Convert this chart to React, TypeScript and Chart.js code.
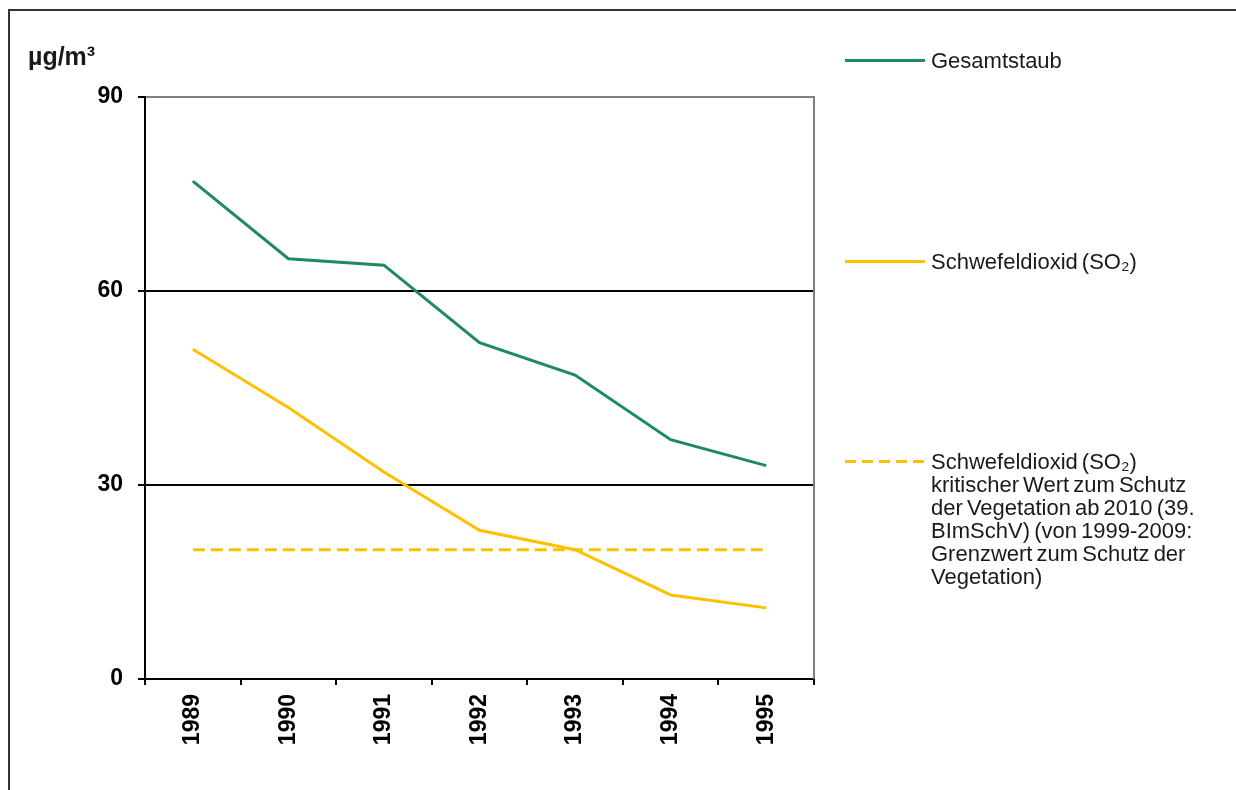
import React, { useEffect, useRef } from "react";
import { Chart, registerables } from "chart.js";

Chart.register(...registerables);

const years = ["1989", "1990", "1991", "1992", "1993", "1994", "1995"];
const gesamtstaub = [77, 65, 64, 52, 47, 37, 33];
const schwefeldioxid = [51, 42, 32, 23, 20, 13, 11];
const grenzwert = [20, 20, 20, 20, 20, 20, 20];
const yTicks = [0, 30, 60, 90];

const GREEN = "#1F8A5A";
const YELLOW = "#FFC000";
const FONT = "'Liberation Sans', Arial, sans-serif";

const rightBorder = {
  id: "rightBorder",
  beforeDatasetsDraw(chart: any) {
    const { ctx, chartArea } = chart;
    ctx.save();
    ctx.strokeStyle = "#808080";
    ctx.lineWidth = 2;
    ctx.beginPath();
    ctx.moveTo(chartArea.right, chartArea.top - 1);
    ctx.lineTo(chartArea.right, chartArea.bottom);
    ctx.stroke();
    ctx.restore();
  },
};

export default function App() {
  const ref = useRef<HTMLCanvasElement>(null);

  useEffect(() => {
    if (!ref.current) return;
    const chart = new Chart(ref.current, {
      type: "line",
      data: {
        labels: years,
        datasets: [
          {
            label: "Gesamtstaub",
            data: gesamtstaub,
            borderColor: GREEN,
            backgroundColor: GREEN,
            borderWidth: 3,
            pointRadius: 0,
            tension: 0,
          },
          {
            label: "Schwefeldioxid (SO₂)",
            data: schwefeldioxid,
            borderColor: YELLOW,
            backgroundColor: YELLOW,
            borderWidth: 3,
            pointRadius: 0,
            tension: 0,
          },
          {
            label: "Schwefeldioxid (SO₂) kritischer Wert",
            data: grenzwert,
            borderColor: YELLOW,
            backgroundColor: YELLOW,
            borderWidth: 3,
            borderDash: [12, 6],
            pointRadius: 0,
            tension: 0,
          },
        ],
      },
      options: {
        responsive: false,
        animation: false,
        events: [],
        layout: { padding: { left: 45, top: 97, right: 422, bottom: 0 } },
        plugins: {
          legend: { display: false },
          tooltip: { enabled: false },
        },
        scales: {
          x: {
            offset: true,
            afterFit(scale: any) {
              scale.height = 111;
            },
            grid: {
              offset: true,
              drawOnChartArea: false,
              drawTicks: true,
              tickLength: 6,
              tickColor: "#000",
              lineWidth: 2,
            },
            border: { color: "#000", width: 2 },
            ticks: {
              autoSkip: false,
              maxRotation: 90,
              minRotation: 90,
              padding: 9,
              color: "#000",
              font: { family: FONT, size: 23, weight: "bold" },
            },
          },
          y: {
            min: 0,
            max: 90,
            afterFit(scale: any) {
              scale.width = 100;
            },
            afterBuildTicks(scale: any) {
              scale.ticks = yTicks.map((v) => ({ value: v }));
            },
            grid: {
              color: (c: any) => (c.tick && c.tick.value === 90 ? "#808080" : "#000"),
              lineWidth: 2,
              tickLength: 7,
              tickColor: "#000",
            },
            border: { color: "#000", width: 2 },
            ticks: {
              padding: 15,
              color: "#000",
              font: { family: FONT, size: 23, weight: "bold" },
            },
          },
        },
      },
      plugins: [rightBorder],
    } as any);
    return () => chart.destroy();
  }, []);

  const legendText: React.CSSProperties = {
    position: "absolute",
    left: 931,
    fontFamily: FONT,
    fontSize: 22,
    lineHeight: "23px",
    wordSpacing: "-2px",
    color: "#1a1a1a",
    whiteSpace: "nowrap",
  };

  return (
    <div
      style={{
        position: "fixed",
        left: 0,
        top: 0,
        width: 1236,
        height: 790,
        overflow: "hidden",
        background: "#fff",
      }}
    >
      <div
        style={{
          position: "absolute",
          left: 8,
          top: 9,
          width: 1400,
          height: 1000,
          border: "2px solid #333",
        }}
      />
      <canvas ref={ref} width={1236} height={790} style={{ position: "absolute", left: 0, top: 0 }} />
      <div
        style={{
          position: "absolute",
          left: 28,
          top: 42,
          fontFamily: FONT,
          fontSize: 25,
          fontWeight: "bold",
          color: "#1a1a1a",
          lineHeight: "28px",
        }}
      >
        µg/m³
      </div>
      <div style={{ position: "absolute", left: 845, top: 59, width: 80, height: 3, background: GREEN }} />
      <div style={{ ...legendText, top: 49 }}>Gesamtstaub</div>
      <div style={{ position: "absolute", left: 845, top: 260, width: 80, height: 3, background: YELLOW }} />
      <div style={{ ...legendText, top: 250 }}>Schwefeldioxid (SO₂)</div>
      <div
        style={{
          position: "absolute",
          left: 845,
          top: 460,
          width: 80,
          height: 3,
          backgroundImage: `repeating-linear-gradient(to right, ${YELLOW} 0 11px, transparent 11px 17px)`,
        }}
      />
      <div style={{ ...legendText, top: 450 }}>
        Schwefeldioxid (SO₂)
        <br />
        kritischer Wert zum Schutz
        <br />
        der Vegetation ab 2010 (39.
        <br />
        BImSchV) (von 1999-2009:
        <br />
        Grenzwert zum Schutz der
        <br />
        Vegetation)
      </div>
    </div>
  );
}
